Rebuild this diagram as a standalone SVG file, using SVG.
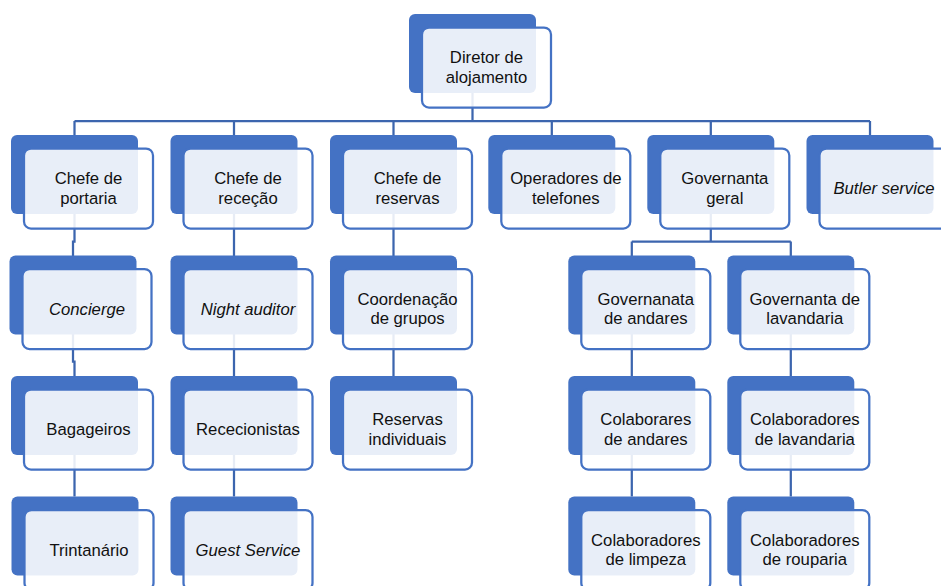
<svg xmlns="http://www.w3.org/2000/svg" width="941" height="586" viewBox="0 0 941 586">
  <style>
    .bg { fill: #ffffff; }
    .link { fill: none; stroke: #3C65AE; stroke-width: 2.25; }
    .back { fill: #4472C4; }
    .front { fill: #ffffff; fill-opacity: 0.88; stroke: #4472C4; stroke-width: 2.25; }
    .lbl { font-family: "Liberation Sans", Arial, sans-serif; font-size: 16.7px; fill: #111111; text-anchor: middle; }
    .it { font-style: italic; }
  </style>
  <defs>
    <!-- back plate and framed card of one org-chart box -->
    <rect id="plate" width="127" height="79" rx="6" ry="6"/>
    <rect id="card" width="129" height="80" rx="7" ry="7"/>
  </defs>
  <rect class="bg" x="0" y="0" width="941" height="586"/>

  <!-- connectors, drawn beneath the boxes -->
  <g id="connectors">
    <path class="link" d="M472.5 93 V121"/>
    <path class="link" d="M74.5 121 H870"/>
    <path class="link" d="M74.5 121 V135 M234 121 V135 M393.5 121 V135 M551.8 121 V135 M710.8 121 V135 M870 121 V135"/>
    <path class="link" d="M74.5 214 V241.5 H73 V361.5 H74.5 V496.5"/>
    <path class="link" d="M234 214 V496.5"/>
    <path class="link" d="M393.5 214 V376"/>
    <path class="link" d="M710.8 214 V241.5"/>
    <path class="link" d="M631.8 241.5 H790.8"/>
    <path class="link" d="M631.8 241.5 V496.5"/>
    <path class="link" d="M790.8 241.5 V496.5"/>
  </g>

  <!-- level 0 -->
  <g id="node-diretor">
    <use href="#plate" class="back" x="409" y="14"/>
    <use href="#card" class="front" x="422" y="27.5"/>
    <text class="lbl" x="486.5" y="63">Diretor de</text>
    <text class="lbl" x="486.5" y="82.5">alojamento</text>
  </g>

  <!-- level 1 -->
  <g id="node-chefe-portaria">
    <use href="#plate" class="back" x="11" y="135"/>
    <use href="#card" class="front" x="24" y="148.5"/>
    <text class="lbl" x="88.5" y="184">Chefe de</text>
    <text class="lbl" x="88.5" y="203.5">portaria</text>
  </g>
  <g id="node-chefe-rececao">
    <use href="#plate" class="back" x="170.5" y="135"/>
    <use href="#card" class="front" x="183.5" y="148.5"/>
    <text class="lbl" x="248" y="184">Chefe de</text>
    <text class="lbl" x="248" y="203.5">receção</text>
  </g>
  <g id="node-chefe-reservas">
    <use href="#plate" class="back" x="330" y="135"/>
    <use href="#card" class="front" x="343" y="148.5"/>
    <text class="lbl" x="407.5" y="184">Chefe de</text>
    <text class="lbl" x="407.5" y="203.5">reservas</text>
  </g>
  <g id="node-operadores">
    <use href="#plate" class="back" x="488.3" y="135"/>
    <use href="#card" class="front" x="501.3" y="148.5"/>
    <text class="lbl" x="565.8" y="184">Operadores de</text>
    <text class="lbl" x="565.8" y="203.5">telefones</text>
  </g>
  <g id="node-governanta-geral">
    <use href="#plate" class="back" x="647.3" y="135"/>
    <use href="#card" class="front" x="660.3" y="148.5"/>
    <text class="lbl" x="724.8" y="184">Governanta</text>
    <text class="lbl" x="724.8" y="203.5">geral</text>
  </g>
  <g id="node-butler">
    <use href="#plate" class="back" x="806.5" y="135"/>
    <use href="#card" class="front" x="819.5" y="148.5"/>
    <text class="lbl it" x="884" y="194">Butler service</text>
  </g>

  <!-- level 2 -->
  <g id="node-concierge">
    <use href="#plate" class="back" x="9.5" y="255.5"/>
    <use href="#card" class="front" x="22.5" y="269"/>
    <text class="lbl it" x="87" y="314.5">Concierge</text>
  </g>
  <g id="node-night-auditor">
    <use href="#plate" class="back" x="170.5" y="255.5"/>
    <use href="#card" class="front" x="183.5" y="269"/>
    <text class="lbl it" x="248" y="314.5">Night auditor</text>
  </g>
  <g id="node-coordenacao">
    <use href="#plate" class="back" x="330" y="255.5"/>
    <use href="#card" class="front" x="343" y="269"/>
    <text class="lbl" x="407.5" y="304.5">Coordenação</text>
    <text class="lbl" x="407.5" y="324">de grupos</text>
  </g>
  <g id="node-gov-andares">
    <use href="#plate" class="back" x="568.3" y="255.5"/>
    <use href="#card" class="front" x="581.3" y="269"/>
    <text class="lbl" x="645.8" y="304.5">Governanata</text>
    <text class="lbl" x="645.8" y="324">de andares</text>
  </g>
  <g id="node-gov-lavandaria">
    <use href="#plate" class="back" x="727.3" y="255.5"/>
    <use href="#card" class="front" x="740.3" y="269"/>
    <text class="lbl" x="804.8" y="304.5">Governanta de</text>
    <text class="lbl" x="804.8" y="324">lavandaria</text>
  </g>

  <!-- level 3 -->
  <g id="node-bagageiros">
    <use href="#plate" class="back" x="11" y="376"/>
    <use href="#card" class="front" x="24" y="389.5"/>
    <text class="lbl" x="88.5" y="435">Bagageiros</text>
  </g>
  <g id="node-rececionistas">
    <use href="#plate" class="back" x="170.5" y="376"/>
    <use href="#card" class="front" x="183.5" y="389.5"/>
    <text class="lbl" x="248" y="435">Rececionistas</text>
  </g>
  <g id="node-reservas-individuais">
    <use href="#plate" class="back" x="330" y="376"/>
    <use href="#card" class="front" x="343" y="389.5"/>
    <text class="lbl" x="407.5" y="425">Reservas</text>
    <text class="lbl" x="407.5" y="444.5">individuais</text>
  </g>
  <g id="node-colab-andares">
    <use href="#plate" class="back" x="568.3" y="376"/>
    <use href="#card" class="front" x="581.3" y="389.5"/>
    <text class="lbl" x="645.8" y="425">Colaborares</text>
    <text class="lbl" x="645.8" y="444.5">de andares</text>
  </g>
  <g id="node-colab-lavandaria">
    <use href="#plate" class="back" x="727.3" y="376"/>
    <use href="#card" class="front" x="740.3" y="389.5"/>
    <text class="lbl" x="804.8" y="425">Colaboradores</text>
    <text class="lbl" x="804.8" y="444.5">de lavandaria</text>
  </g>

  <!-- level 4 -->
  <g id="node-trintanario">
    <use href="#plate" class="back" x="11.5" y="496.5"/>
    <use href="#card" class="front" x="24.5" y="510"/>
    <text class="lbl" x="89" y="555.5">Trintanário</text>
  </g>
  <g id="node-guest-service">
    <use href="#plate" class="back" x="170.5" y="496.5"/>
    <use href="#card" class="front" x="183.5" y="510"/>
    <text class="lbl it" x="248" y="555.5">Guest Service</text>
  </g>
  <g id="node-colab-limpeza">
    <use href="#plate" class="back" x="568.3" y="496.5"/>
    <use href="#card" class="front" x="581.3" y="510"/>
    <text class="lbl" x="645.8" y="545.5">Colaboradores</text>
    <text class="lbl" x="645.8" y="565">de limpeza</text>
  </g>
  <g id="node-colab-rouparia">
    <use href="#plate" class="back" x="727.3" y="496.5"/>
    <use href="#card" class="front" x="740.3" y="510"/>
    <text class="lbl" x="804.8" y="545.5">Colaboradores</text>
    <text class="lbl" x="804.8" y="565">de rouparia</text>
  </g>
</svg>
